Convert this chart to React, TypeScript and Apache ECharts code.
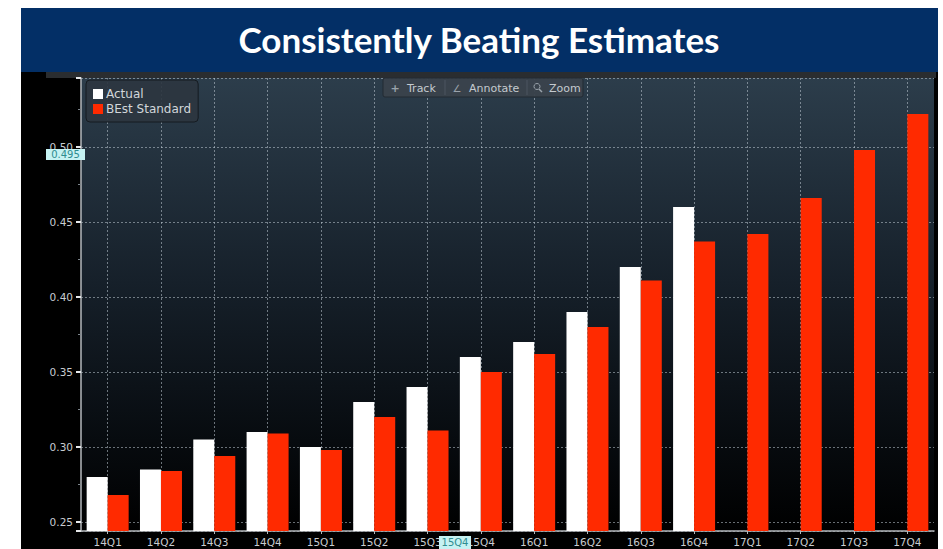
import React, { useEffect, useRef } from "react";
import * as echarts from "echarts";

const categories = ["14Q1", "14Q2", "14Q3", "14Q4", "15Q1", "15Q2", "15Q3", "15Q4", "16Q1", "16Q2", "16Q3", "16Q4", "17Q1", "17Q2", "17Q3", "17Q4"];
const actualValues: (number | null)[] = [0.28, 0.285, 0.305, 0.31, 0.3, 0.33, 0.34, 0.36, 0.37, 0.39, 0.42, 0.46, null, null, null, null];
const bestValues = [0.268, 0.284, 0.294, 0.309, 0.298, 0.32, 0.311, 0.35, 0.362, 0.38, 0.411, 0.437, 0.442, 0.466, 0.498, 0.522];
const seriesNames = ["Actual", "BEst Standard"];
const titleText = "Consistently Beating Estimates";
const yMarkerText = "0.495";
const xMarkerText = "15Q4";

export default function App() {
  const ref = useRef<HTMLDivElement>(null);
  useEffect(() => {
    if (!ref.current) return;
    const chart = echarts.init(ref.current, null, { renderer: "svg" });
    const labelFont = "DejaVu Sans";
    chart.setOption({
      animation: false,
      backgroundColor: "#ffffff",
      graphic: [
        { type: "rect", z: -10, shape: { x: 21, y: 70, width: 917, height: 479 }, style: { fill: "#000000" } },
        { type: "rect", z: -9, shape: { x: 46, y: 72, width: 890, height: 6 }, style: { fill: "#2a2d30" } },
        { type: "rect", z: 10, shape: { x: 21, y: 8, width: 917, height: 64 }, style: { fill: "#032f66" } },
        {
          type: "text", z: 11, x: 479, y: 39,
          style: { text: titleText, fill: "#ffffff", font: "bold 35px Lato", textAlign: "center", textVerticalAlign: "middle" },
        },
        { type: "rect", z: 10, shape: { x: 383, y: 78, width: 200, height: 19, r: 2 }, style: { fill: "rgba(58,66,76,0.95)", stroke: "#222a32", lineWidth: 1 } },
        { type: "line", z: 11, shape: { x1: 445, y1: 80, x2: 445, y2: 95 }, style: { stroke: "#4c5560", lineWidth: 1 } },
        { type: "line", z: 11, shape: { x1: 527, y1: 80, x2: 527, y2: 95 }, style: { stroke: "#4c5560", lineWidth: 1 } },
        { type: "text", z: 11, x: 395, y: 88, style: { text: "+", fill: "#9aa3ab", font: "bold 11px DejaVu Sans", textAlign: "center", textVerticalAlign: "middle" } },
        { type: "text", z: 11, x: 407, y: 88, style: { text: "Track", fill: "#c4cacf", font: "11px DejaVu Sans", textVerticalAlign: "middle" } },
        { type: "text", z: 11, x: 457, y: 88, style: { text: "∠", fill: "#9aa3ab", font: "10px DejaVu Sans", textAlign: "center", textVerticalAlign: "middle" } },
        { type: "text", z: 11, x: 469, y: 88, style: { text: "Annotate", fill: "#c4cacf", font: "11px DejaVu Sans", textVerticalAlign: "middle" } },
        { type: "circle", z: 11, shape: { cx: 537, cy: 86.5, r: 3 }, style: { fill: "none", stroke: "#9aa3ab", lineWidth: 1 } },
        { type: "line", z: 11, shape: { x1: 539, y1: 89, x2: 542, y2: 92 }, style: { stroke: "#9aa3ab", lineWidth: 1.5 } },
        { type: "text", z: 11, x: 549, y: 88, style: { text: "Zoom", fill: "#c4cacf", font: "11px DejaVu Sans", textVerticalAlign: "middle" } },
        { type: "rect", z: 12, shape: { x: 46, y: 149, width: 39, height: 11 }, style: { fill: "#c6f2f2" } },
        { type: "text", z: 13, x: 65.5, y: 154.5, style: { text: yMarkerText, fill: "#2f8d90", font: "10px DejaVu Sans", textAlign: "center", textVerticalAlign: "middle" } },
        { type: "rect", z: 12, shape: { x: 439, y: 536, width: 32, height: 13 }, style: { fill: "#c6f2f2" } },
        { type: "text", z: 13, x: 455, y: 542.5, style: { text: xMarkerText, fill: "#2f8d90", font: "10px DejaVu Sans", textAlign: "center", textVerticalAlign: "middle" } },
      ],
      legend: {
        left: 86, top: 80, orient: "vertical",
        itemWidth: 10, itemHeight: 10, itemGap: 3,
        padding: [8, 7, 7, 7],
        backgroundColor: "rgba(44,54,64,0.92)", borderColor: "#151b21", borderWidth: 1, borderRadius: 4,
        icon: "rect",
        textStyle: { color: "#d2d6da", fontSize: 12, fontFamily: labelFont, padding: [0, 0, 0, -2] },
        data: seriesNames,
      },
      grid: {
        left: 81, right: 9, top: 78, bottom: 18, containLabel: false, show: true, borderWidth: 0,
        backgroundColor: {
          type: "linear", x: 0, y: 0, x2: 0, y2: 1,
          colorStops: [
            { offset: 0, color: "#2c3d4b" },
            { offset: 0.45, color: "#16202a" },
            { offset: 0.8, color: "#070b0f" },
            { offset: 1, color: "#000000" },
          ],
        },
      },
      xAxis: {
        type: "category", data: categories,
        axisLine: { lineStyle: { color: "#b4b8bc", width: 1.5 } },
        axisTick: { show: true, alignWithLabel: true, length: 3, lineStyle: { color: "#b4b8bc" } },
        axisLabel: { color: "#c8ccd0", fontSize: 10.5, fontFamily: labelFont, margin: 5 },
        splitLine: { show: true, alignWithLabel: true, lineStyle: { color: "rgba(190,200,210,0.55)", type: [2, 2], width: 1 } },
      },
      yAxis: {
        type: "value", min: 0.244, max: 0.546, splitNumber: 5,
        axisLine: { show: true, lineStyle: { color: "#b4b8bc", width: 1.5 } },
        axisTick: { show: true, length: 5, lineStyle: { color: "#e6e8ea", width: 2 } },
        minorTick: { show: true, splitNumber: 2, length: 3, lineStyle: { color: "#7d858c" } },
        axisLabel: {
          color: "#c8ccd0", fontSize: 10.5, fontFamily: labelFont, margin: 8,
          showMinLabel: false, showMaxLabel: false,
          formatter: (v: number) => v.toFixed(2),
        },
        splitLine: { show: true, lineStyle: { color: "rgba(190,200,210,0.55)", type: [2, 2], width: 1 } },
      },
      series: [
        { name: seriesNames[0], type: "bar", data: actualValues, barWidth: 21, barGap: "0%", itemStyle: { color: "#ffffff" } },
        { name: seriesNames[1], type: "bar", data: bestValues, barWidth: 21, barGap: "0%", itemStyle: { color: "#ff2a00" } },
      ],
    });
    return () => chart.dispose();
  }, []);
  return <div ref={ref} style={{ position: "fixed", left: 0, top: 0, width: 943, height: 549 }} />;
}
